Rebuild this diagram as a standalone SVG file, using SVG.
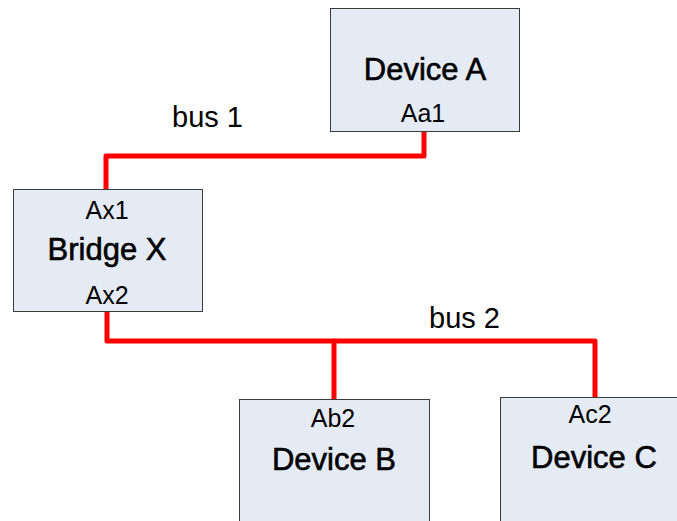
<svg xmlns="http://www.w3.org/2000/svg" width="677" height="521" viewBox="0 0 677 521">
<style>
.box{fill:#e5ebf5;stroke:#3c3c3c;stroke-width:1}
.t{font-family:"Liberation Sans",Arial,sans-serif;fill:#000;text-anchor:middle}
.big{font-size:31px;stroke:#000;stroke-width:0.6}
.port{font-size:25px}
.bus{fill:none;stroke:#ff0000;stroke-width:5;stroke-linejoin:round;stroke-linecap:round}
.lbl{font-family:"Liberation Sans",Arial,sans-serif;font-size:29px;fill:#000}
</style>
<rect width="677" height="521" fill="#ffffff"/>
<g id="connectors">
<path class="bus" d="M424,132 V156 H106 V189"/>
<path class="bus" d="M107,311 V341 H595 V397"/>
<path class="bus" d="M334,341 V399"/>
</g>
<g id="deviceA">
<rect class="box" x="330.5" y="8.5" width="189" height="123"/>
<text class="t big" x="425" y="80">Device A</text>
<text class="t port" x="423" y="122">Aa1</text>
</g>
<g id="bridgeX">
<rect class="box" x="13.5" y="189.5" width="189" height="122"/>
<text class="t port" x="107" y="219">Ax1</text>
<text class="t big" x="107" y="260">Bridge X</text>
<text class="t port" x="107" y="304">Ax2</text>
</g>
<g id="deviceB">
<rect class="box" x="239.5" y="399.5" width="190" height="130"/>
<text class="t port" x="333" y="427">Ab2</text>
<text class="t big" x="334" y="470">Device B</text>
</g>
<g id="deviceC">
<rect class="box" x="500.5" y="397.5" width="190" height="130"/>
<text class="t port" x="590" y="423">Ac2</text>
<text class="t big" x="594" y="468">Device C</text>
</g>
<g id="labels">
<text class="lbl" x="172" y="127">bus 1</text>
<text class="lbl" x="429" y="328">bus 2</text>
</g>
</svg>
